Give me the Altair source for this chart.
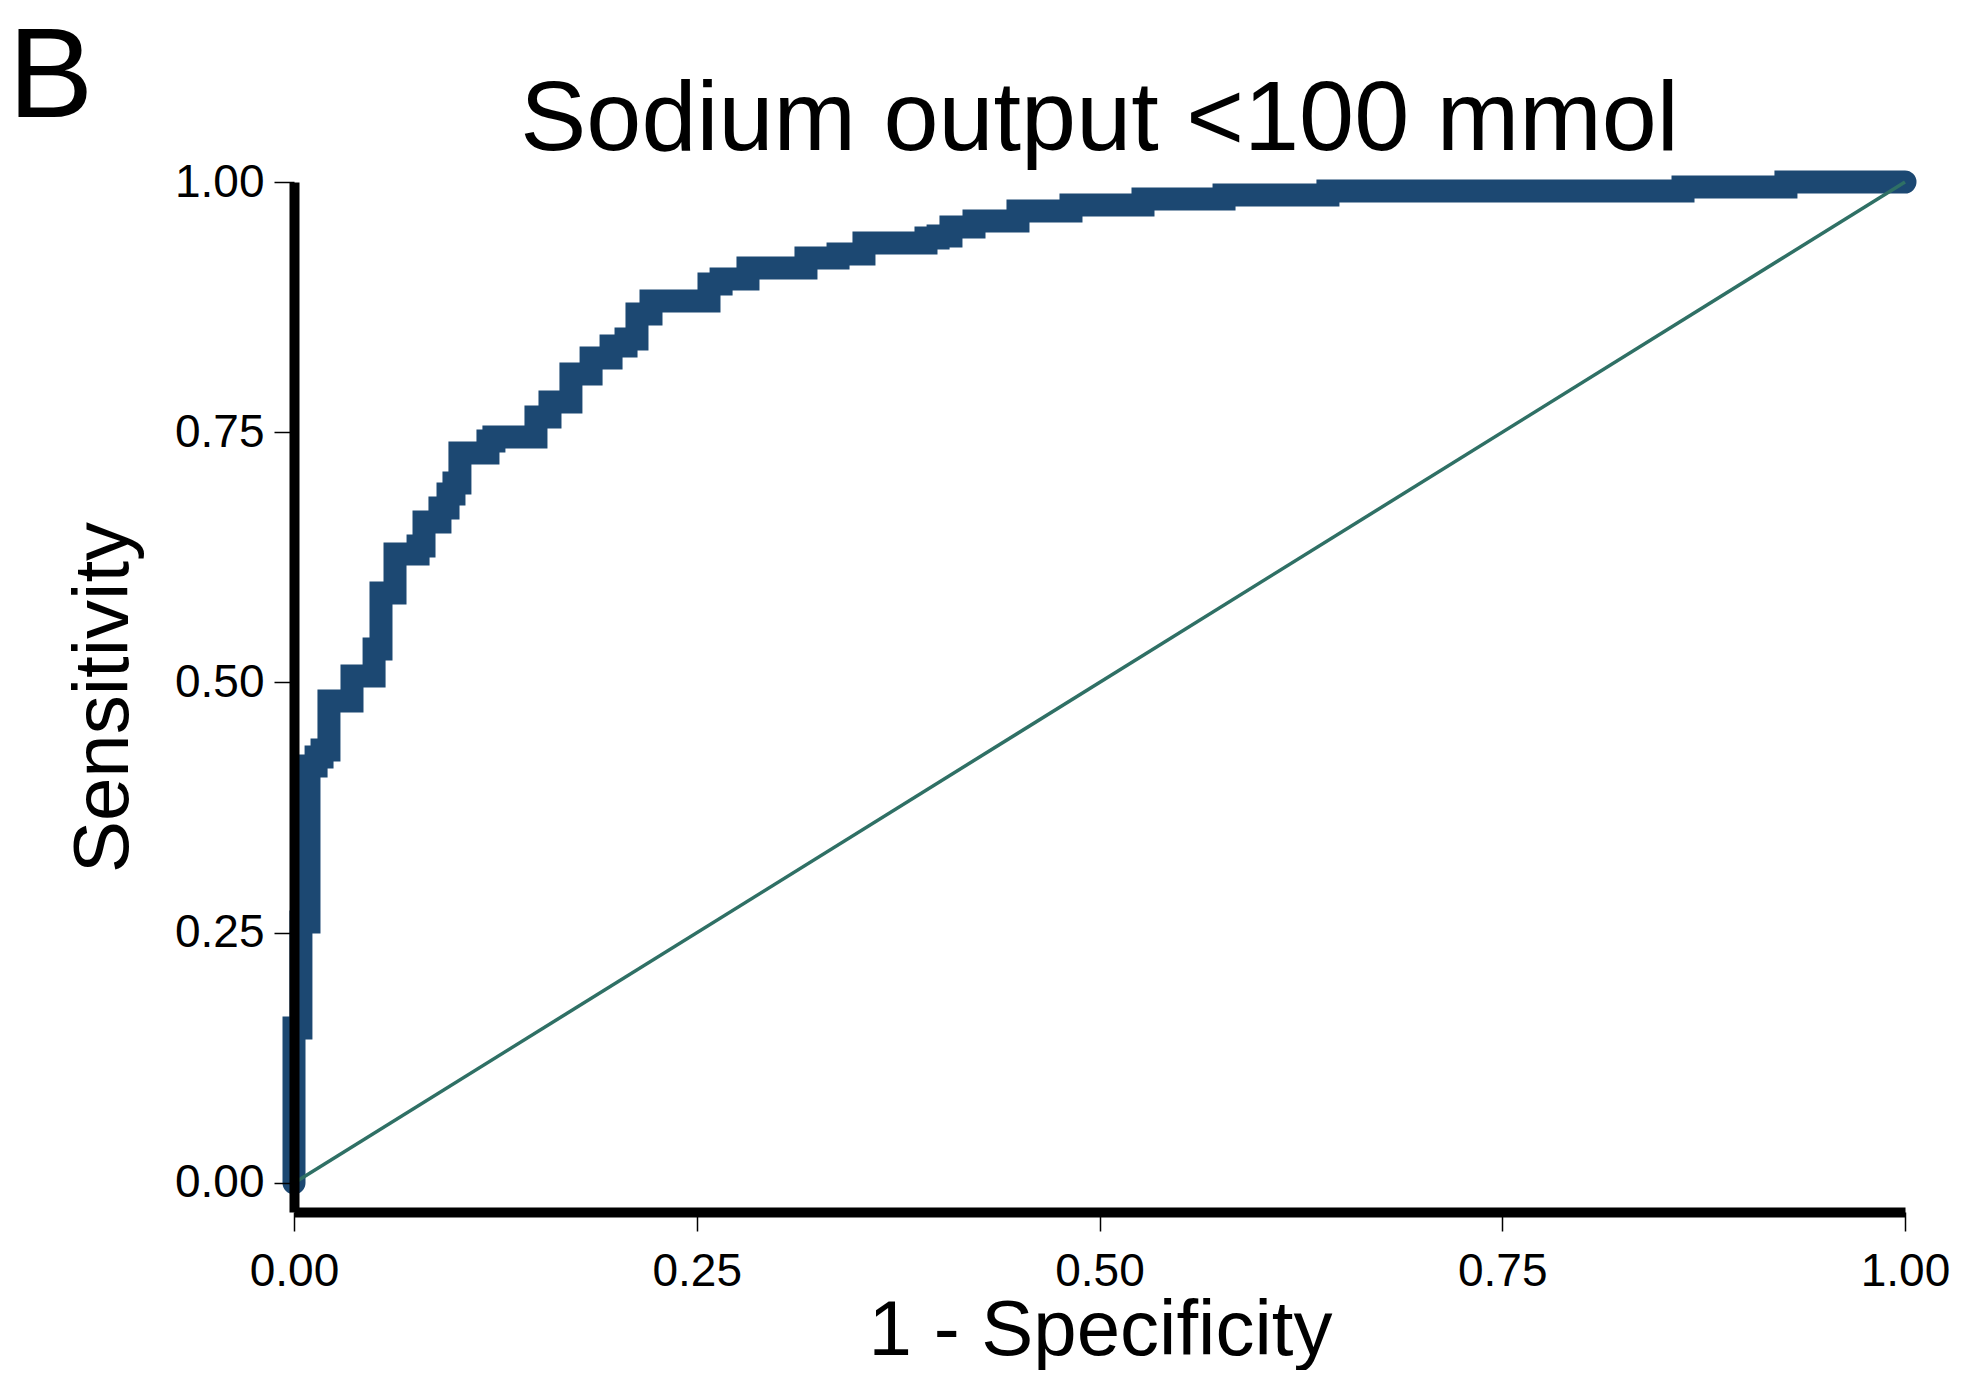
import altair as alt
import pandas as pd

# ---- text ----
panel_label = ["B"]
title_text = ["Sodium output <100 mmol"]
x_title = "1 - Specificity"
y_title = "Sensitivity"
tick_values = [0.0, 0.25, 0.5, 0.75, 1.0]

roc_fpr = [0.0, 0.0, 0.0043, 0.0043, 0.0093, 0.0093, 0.0137, 0.0137, 0.0174, 0.0174,
           0.0217, 0.0217, 0.0360, 0.0360, 0.0497, 0.0497, 0.0540, 0.0540, 0.0627, 0.0627,
           0.0770, 0.0770, 0.0807, 0.0807, 0.0906, 0.0906, 0.0956, 0.0956, 0.0993, 0.0993,
           0.1030, 0.1030, 0.1204, 0.1204, 0.1241, 0.1241, 0.1502, 0.1502, 0.1589, 0.1589,
           0.1719, 0.1719, 0.1844, 0.1844, 0.1968, 0.1968, 0.2061, 0.2061, 0.2129, 0.2129,
           0.2216, 0.2216, 0.2576, 0.2576, 0.2651, 0.2651, 0.2818, 0.2818, 0.3178, 0.3178,
           0.3377, 0.3377, 0.3538, 0.3538, 0.3923, 0.3923, 0.3998, 0.3998, 0.4078, 0.4078,
           0.4221, 0.4221, 0.4494, 0.4494, 0.4823, 0.4823, 0.5270, 0.5270, 0.5773, 0.5773,
           0.6418, 0.6418, 0.8622, 0.8622, 0.9261, 0.9261, 1.0]
roc_tpr = [0.0, 0.1548, 0.1548, 0.2607, 0.2607, 0.4166, 0.4166, 0.4256, 0.4256, 0.4326,
           0.4326, 0.4815, 0.4815, 0.5065, 0.5065, 0.5335, 0.5335, 0.5894, 0.5894, 0.6284,
           0.6284, 0.6364, 0.6364, 0.6603, 0.6603, 0.6743, 0.6743, 0.6883, 0.6883, 0.6993,
           0.6993, 0.7293, 0.7293, 0.7413, 0.7413, 0.7453, 0.7453, 0.7652, 0.7652, 0.7802,
           0.7802, 0.8082, 0.8082, 0.8242, 0.8242, 0.8362, 0.8362, 0.8432, 0.8432, 0.8681,
           0.8681, 0.8811, 0.8811, 0.8981, 0.8981, 0.9031, 0.9031, 0.9141, 0.9141, 0.9241,
           0.9241, 0.9281, 0.9281, 0.9391, 0.9391, 0.9441, 0.9441, 0.9461, 0.9461, 0.9550,
           0.9550, 0.9610, 0.9610, 0.9710, 0.9710, 0.9770, 0.9770, 0.9830, 0.9830, 0.9870,
           0.9870, 0.9910, 0.9910, 0.9950, 0.9950, 1.0, 1.0]

# ---- reference (chance) line ----
ref_fpr = [0.0, 1.0]
ref_tpr = [0.0, 1.0]

FONT = "Liberation Sans, Arial, sans-serif"

roc_df = pd.DataFrame({"fpr": roc_fpr, "tpr": roc_tpr, "order": list(range(len(roc_fpr)))})
ref_df = pd.DataFrame({"fpr": ref_fpr, "tpr": ref_tpr})
lab_df = pd.DataFrame({"label": panel_label})
title_df = pd.DataFrame({"label": title_text})

x_enc = alt.X(
    "fpr:Q",
    scale=alt.Scale(domain=[0, 1], nice=False, zero=False),
    axis=alt.Axis(
        values=tick_values, format=".2f", title=x_title,
        labelFont=FONT, labelFontSize=46, labelColor="black",
        labelBaseline="alphabetic", labelPadding=54, labelFlush=False, labelOverlap=False,
        tickSize=19, tickWidth=1.5, tickColor="black",
        domainWidth=10, domainColor="black", grid=False,
        titleFont=FONT, titleFontSize=78, titleFontWeight="normal", titleColor="black",
        titleX=806, titleY=142, titleBaseline="alphabetic", titleAlign="center",
        zindex=1,
    ),
)
y_enc = alt.Y(
    "tpr:Q",
    scale=alt.Scale(domain=[-0.029, 1], nice=False, zero=False),
    axis=alt.Axis(
        values=tick_values, format=".2f", title=y_title,
        labelFont=FONT, labelFontSize=46, labelColor="black",
        labelBaseline="middle", labelPadding=10, labelFlush=False, labelOverlap=False,
        tickSize=20, tickWidth=1.5, tickColor="black",
        domainWidth=10, domainColor="black", grid=False,
        titleFont=FONT, titleFontSize=78, titleFontWeight="normal", titleColor="black",
        titleX=-167, titleY=515, titleBaseline="alphabetic", titleAlign="center",
        titleAngle=270, zindex=1,
    ),
)

roc = alt.Chart(roc_df).mark_line(
    color="#1c4872", strokeWidth=23, strokeCap="round", strokeJoin="miter"
).encode(x=x_enc, y=y_enc, order="order:Q")

diag = alt.Chart(ref_df).mark_line(color="#2f7065", strokeWidth=3.5).encode(
    x="fpr:Q", y="tpr:Q"
)

panel = alt.Chart(lab_df).mark_text(
    font=FONT, fontSize=128, align="left", baseline="alphabetic", color="black"
).encode(text="label:N", x=alt.value(-286), y=alt.value(-65))

title = alt.Chart(title_df).mark_text(
    font=FONT, fontSize=99, align="center", baseline="alphabetic", color="black"
).encode(text="label:N", x=alt.value(805.5), y=alt.value(-32))

chart = alt.layer(roc, diag, panel, title).properties(
    width=1611,
    height=1030,
    background="white",
    autosize=alt.AutoSizeParams(type="none"),
    padding={"left": 286, "top": 174, "right": 48, "bottom": 158},
).configure_view(strokeWidth=0, strokeOpacity=0)

chart.save("out.html", embed_options={"renderer": "svg", "actions": False})
